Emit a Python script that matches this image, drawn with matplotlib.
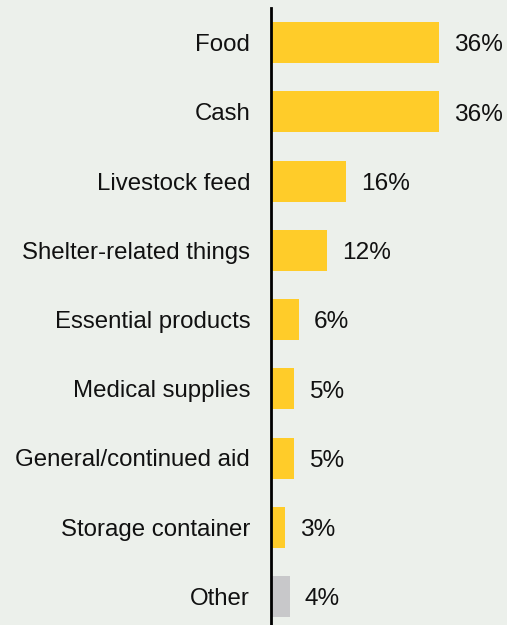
import matplotlib
matplotlib.use("Agg")
import matplotlib.pyplot as plt

categories = ["Food", "Cash", "Livestock feed", "Shelter-related things",
              "Essential products", "Medical supplies", "General/continued aid",
              "Storage container", "Other"]
values = [36, 36, 16, 12, 6, 5, 5, 3, 4]
value_labels = ["36%", "36%", "16%", "12%", "6%", "5%", "5%", "3%", "4%"]

yellow = "#FFCC29"
grey = "#C8C8CA"
bg = "#ECF0EB"
colors = [grey if c == "Other" else yellow for c in categories]

plt.rcParams["font.family"] = ["Liberation Sans", "DejaVu Sans"]

W, H = 507, 625
fig = plt.figure(figsize=(W / 100, H / 100), dpi=100, facecolor=bg)
left_px, top_px = 271, 8
ax = fig.add_axes([left_px / W, 0, (W - left_px) / W, (H - top_px) / H])
ax.set_facecolor(bg)

pitch = 69.25
first_center = 42.5
y = list(range(len(categories)))
ax.barh(y, values, height=41 / pitch, color=colors, left=0)

ax.set_ylim((H - first_center) / pitch, (top_px - first_center) / pitch)
ax.set_xlim(0, (W - left_px) / 4.68)

ax.set_yticks(y)
ax.set_yticklabels(categories, fontsize=17.3, color="#111111")
ax.tick_params(axis="y", length=0, pad=15)
ax.set_xticks([])

for s in ["top", "right", "bottom"]:
    ax.spines[s].set_visible(False)
ax.spines["left"].set_linewidth(2)
ax.spines["left"].set_color("#000000")

for yi, v, lab in zip(y, values, value_labels):
    ax.annotate(lab, (v, yi), xytext=(10.8, -2.0), textcoords="offset points",
                ha="left", va="center", fontsize=17.6, color="#111111")

fig.savefig("out.png", dpi=100, facecolor=bg)
